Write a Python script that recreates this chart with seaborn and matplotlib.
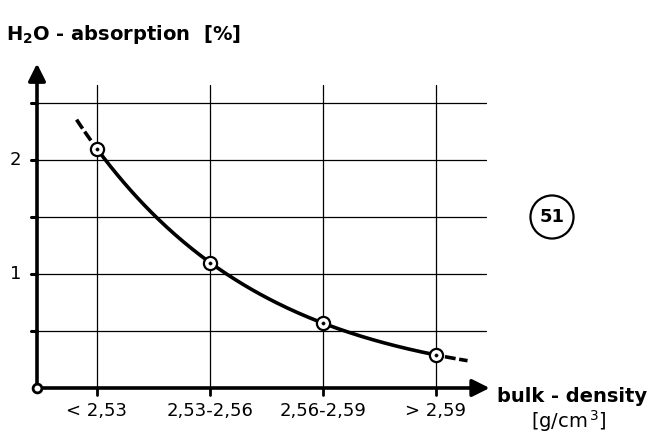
import matplotlib
matplotlib.use("Agg")
import matplotlib.pyplot as plt
import numpy as np
import pandas as pd
import seaborn as sns

categories = ["< 2,53", "2,53-2,56", "2,56-2,59", "> 2,59"]
absorption = [2.10, 1.10, 0.57, 0.29]
y_ticks = [1, 2]
grid_y = [0.5, 1.0, 1.5, 2.0, 2.5]

sns.set_theme(style="white")
plt.rcParams["font.family"] = ["DejaVu Sans"]

fig = plt.figure(figsize=(6.6, 4.36), dpi=100)
x0, y0 = 37 / 660, 1 - 388 / 436
ax = fig.add_axes([x0, y0, 466.7 / 660, 336.3 / 436])
ax.set_xlim(-0.53, 3.6)
ax.set_ylim(0, 2.95)

pos = np.arange(len(categories))
df = pd.DataFrame({"pos": pos, "absorption": absorption})

# smooth curve through the points (quadratic in log space)
coef = np.polyfit(pos, np.log(absorption), 2)
xs = np.linspace(0, 3, 200)
curve = pd.DataFrame({"pos": xs, "absorption": np.exp(np.polyval(coef, xs))})
lo = np.linspace(-0.18, -0.05, 20)
hi = np.linspace(3.08, 3.28, 20)

# grid
for p in pos:
    ax.plot([p, p], [0, 2.66], color="black", lw=0.9, zorder=1)
for g in grid_y:
    ax.plot([-0.53, 3.44], [g, g], color="black", lw=0.9, zorder=1)

# axes with arrows
ax.annotate("", xy=(3.5, 0), xytext=(-0.53, 0),
            arrowprops=dict(arrowstyle="-|>", lw=2.6, color="black", mutation_scale=26))
ax.annotate("", xy=(-0.53, 2.87), xytext=(-0.53, 0),
            arrowprops=dict(arrowstyle="-|>", lw=2.6, color="black", mutation_scale=26))
ax.scatter([-0.53], [0], s=40, facecolor="white", edgecolor="black", linewidths=2, zorder=6, clip_on=False)

# ticks
for g in grid_y:
    ax.plot([-0.58, -0.53], [g, g], color="black", lw=2.2, zorder=3, clip_on=False)
for p in pos:
    ax.plot([p, p], [0, -0.06], color="black", lw=2.0, zorder=3, clip_on=False)

sns.lineplot(data=curve, x="pos", y="absorption", ax=ax, color="black", lw=2.6, zorder=4)
ax.plot(lo, np.exp(np.polyval(coef, lo)), color="black", lw=2.6, ls=(0, (3, 1)), zorder=4)
ax.plot(hi, np.exp(np.polyval(coef, hi)), color="black", lw=2.6, ls=(0, (3, 1)), zorder=4)
sns.scatterplot(data=df, x="pos", y="absorption", ax=ax, s=90, color="white",
                edgecolor="black", linewidth=1.6, zorder=5)
sns.scatterplot(data=df, x="pos", y="absorption", ax=ax, s=6, color="black",
                edgecolor="black", zorder=6)
ax.axis("off")

# labels
for p, lab in zip(pos, categories):
    ax.text(p, -0.2, lab, ha="center", va="center", fontsize=13, color="black")
for t in y_ticks:
    ax.text(-0.72, t, str(t), ha="center", va="center", fontsize=13, color="black")

fig.text(497 / 660, 1 - 396 / 436, "bulk - density", ha="left", va="center",
         fontsize=14, fontweight="semibold", color="black")
fig.text(531 / 660, 1 - 421 / 436, r"[g/cm$^{\,3}$]", ha="left", va="center",
         fontsize=14, color="black")
fig.text(6 / 660, 1 - 35 / 436, r"H$_{\mathbf{2}}$O - absorption  [%]", ha="left", va="center",
         fontsize=14, fontweight="semibold", color="black")

# figure number in circle
fig.text(552 / 660, 1 - 217 / 436, "51", ha="center", va="center", fontsize=13,
         fontweight="semibold", color="black",
         bbox=dict(boxstyle="circle,pad=0.5", facecolor="white", edgecolor="black", lw=1.6))

fig.savefig("out.png", dpi=100)
